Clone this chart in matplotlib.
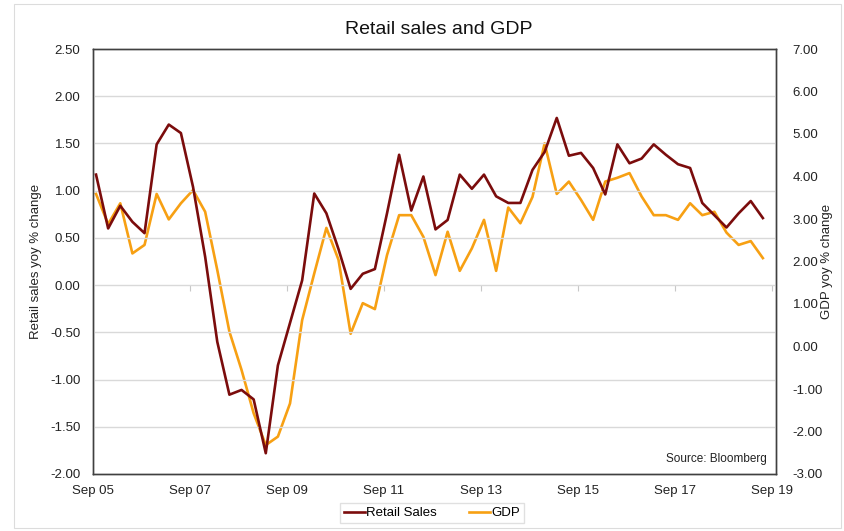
import matplotlib
matplotlib.use("Agg")
import matplotlib.pyplot as plt
from matplotlib.patches import Rectangle

plt.rcParams['font.family'] = ['Liberation Sans', 'DejaVu Sans']

# Quarterly year-on-year % changes, Sep 2005 .. Jun 2019
retail_sales = [
    1.17, 0.60, 0.84, 0.67, 0.55, 1.49, 1.70, 1.61, 1.04, 0.30,
    -0.60, -1.16, -1.11, -1.21, -1.78, -0.85, -0.40, 0.05, 0.97, 0.76,
    0.38, -0.04, 0.12, 0.17, 0.76, 1.38, 0.79, 1.15, 0.59, 0.69,
    1.17, 1.02, 1.17, 0.94, 0.87, 0.87, 1.22, 1.41, 1.77, 1.37,
    1.40, 1.24, 0.96, 1.49, 1.29, 1.34, 1.49, 1.38, 1.28, 1.24,
    0.87, 0.74, 0.61, 0.76, 0.89, 0.71,
]
gdp = [
    3.59, 2.88, 3.37, 2.19, 2.39, 3.59, 2.99, 3.37, 3.68, 3.17,
    1.80, 0.35, -0.55, -1.57, -2.32, -2.12, -1.34, 0.62, 1.72, 2.79,
    2.04, 0.30, 1.02, 0.88, 2.15, 3.09, 3.09, 2.58, 1.68, 2.70,
    1.78, 2.31, 2.98, 1.78, 3.27, 2.90, 3.52, 4.78, 3.59, 3.88,
    3.45, 2.98, 3.88, 3.97, 4.08, 3.53, 3.09, 3.09, 2.98, 3.37,
    3.09, 3.17, 2.68, 2.39, 2.48, 2.08,
]
tick_labels = ["Sep 05", "Sep 07", "Sep 09", "Sep 11",
               "Sep 13", "Sep 15", "Sep 17", "Sep 19"]
left_ticks = [2.5, 2.0, 1.5, 1.0, 0.5, 0.0, -0.5, -1.0, -1.5, -2.0]
right_ticks = [7, 6, 5, 4, 3, 2, 1, 0, -1, -2, -3]

# months elapsed since Sep 2005; observations sit at quarter ends
months = [3 * i + 0.75 for i in range(len(retail_sales))]
tick_pos = [24 * k for k in range(len(tick_labels))]

RED = "#7b0c0c"
ORANGE = "#f7a013"
GRID = "#d9d9d9"
TEXT = "#222222"

fig = plt.figure(figsize=(8.45, 5.31), dpi=100)
ax = fig.add_axes([93 / 845, 57 / 531, 683 / 845, 425 / 531])
ax2 = ax.twinx()

# chart-area outline
fig.patches.append(Rectangle((14 / 845, 3 / 531), 827 / 845, 524 / 531,
                             transform=fig.transFigure, fill=False,
                             edgecolor="#dcdcdc", linewidth=0.8))

ax.set_xlim(0, 169)
ax.set_ylim(-2.0, 2.5)
ax2.set_ylim(-3, 7)

ax.set_yticks(left_ticks)
ax.set_yticklabels([f"{v:.2f}" for v in left_ticks])
ax2.set_yticks(right_ticks)
ax2.set_yticklabels([f"{v:.2f}" for v in right_ticks])
ax.set_xticks(tick_pos)
ax.set_xticklabels(tick_labels)

ax.grid(axis="y", color=GRID, linewidth=1.0)
ax.set_axisbelow(True)

ax.tick_params(axis="y", length=0, pad=9, labelsize=9.5, colors=TEXT)
ax2.tick_params(axis="y", length=0, pad=12, labelsize=9.5, colors=TEXT)
ax.tick_params(axis="x", length=0, pad=8, labelsize=9.5, colors=TEXT)

# tick marks along the zero line
secx = ax.secondary_xaxis(2.0 / 4.5)
secx.set_xticks(tick_pos)
secx.set_xticklabels([])
secx.tick_params(axis="x", length=4, direction="out", color="#c8c8c8", width=0.8)
secx.spines["bottom"].set_visible(False)
secx.spines["top"].set_visible(False)

for a in (ax, ax2):
    for s in a.spines.values():
        s.set_color("#404040")
        s.set_linewidth(1.0)

l1, = ax.plot(months, retail_sales, color=RED, linewidth=1.9,
              label="Retail Sales", zorder=3)
l2, = ax2.plot(months, gdp, color=ORANGE, linewidth=1.9, label="GDP", zorder=2)
ax.set_zorder(ax2.get_zorder() + 1)
ax.patch.set_visible(False)

ax.set_ylabel("Retail sales yoy % change", fontsize=9.5, color=TEXT)
ax.yaxis.set_label_coords((42 - 93) / 683, 0.5)
ax2.set_ylabel("GDP yoy % change", fontsize=9.5, color=TEXT)
ax2.yaxis.set_label_coords((821 - 93) / 683, 0.5)

fig.text(0.5195, 1 - 30 / 531, "Retail sales and GDP", ha="center",
         va="center", fontsize=14, color="#111111")
ax.text(0.987, 0.022, "Source: Bloomberg", transform=ax.transAxes,
        ha="right", va="bottom", fontsize=8.5, color=TEXT)

fig.legend([l1, l2], ["Retail Sales", "GDP"], loc="center",
           bbox_to_anchor=(432 / 845, 1 - 513 / 531), ncol=2,
           frameon=True, fancybox=False, edgecolor=GRID, fontsize=9.5,
           handlelength=1.6, handletextpad=0.1, columnspacing=2.4,
           borderpad=0.3, borderaxespad=0.0)

fig.savefig("out.png", dpi=100)
